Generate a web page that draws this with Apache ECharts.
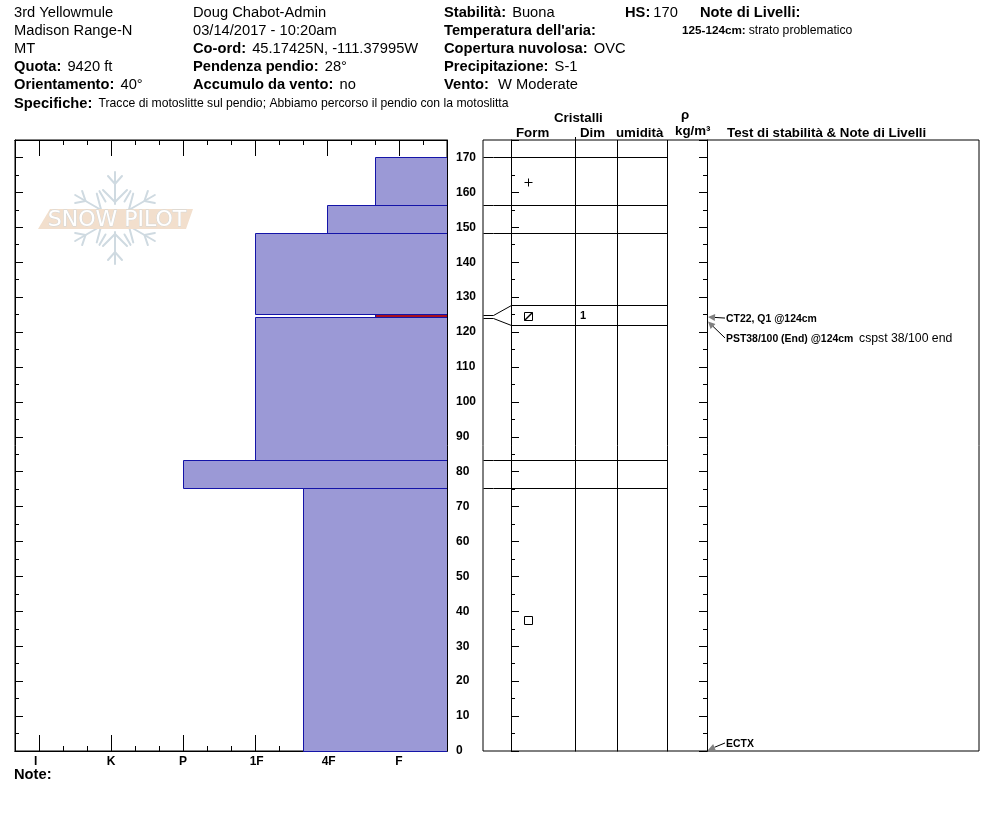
<!DOCTYPE html>
<html><head><meta charset="utf-8">
<style>html,body{margin:0;padding:0;background:#fff}#c{width:994px;height:840px}</style>
<script src="https://cdn.jsdelivr.net/npm/echarts@6/dist/echarts.min.js"></script>
</head><body><div id="c"></div>
<script>
// ---- chart data ----
const hardnessTicks = [3, 6, 9, 12, 15, 18];
const hardnessLabels = ['I  ', 'K', 'P', ' 1F', ' 4F', 'F'];
const layerTop = [170, 156.4, 148.4, 124.3, 83.4, 75.3];
const layerBottom = [156.4, 148.4, 125.2, 83.4, 75.3, 0];
const layerHardness = [17, 15, 12, 12, 9, 14];
const problemLayer = [125.2, 124.3, 17];
const trueDepths = [170, 156.4, 148.4, 124.9, 124.1, 83.4, 75.3];
const rowDepths = [170, 156.4, 148.4, 127.8, 122, 83.4, 75.3];
const columnEdges = [28, 92, 134, 184, 224];
const grainDepths = [163, 124.6, 37.5];
const grainKinds = ['plus', 'slashbox', 'box'];
const sizeDepths = [124.6];
const sizeLabels = ['1'];
const testTipDepths = [124.3, 123.0, 0.3];
const testLabelDepths = [124.0, 118.3, 2.3];
const testLabels = ['CT22, Q1 @124cm', 'PST38/100 (End) @124cm', 'ECTX'];
const testNotes = ['', 'cspst 38/100 end', ''];
const headerRows = [
 [14, 13, '{r|3rd Yellowmule}'], [14, 31, '{r|Madison Range-N}'], [14, 49, '{r|MT}'],
 [14, 67, '{b|Quota:}  {r|9420 ft}'], [14, 85, '{b|Orientamento:}  {r|40°}'],
 [193, 13, '{r|Doug Chabot-Admin}'], [193, 31, '{r|03/14/2017 - 10:20am}'],
 [193, 49, '{b|Co-ord:}  {r|45.17425N, -111.37995W}'], [193, 67, '{b|Pendenza pendio:}  {r|28°}'],
 [193, 85, '{b|Accumulo da vento:}  {r|no}'],
 [444, 13, '{b|Stabilità:}  {r|Buona}'], [444, 31, "{b|Temperatura dell'aria:}"],
 [444, 49, '{b|Copertura nuvolosa:}  {r|OVC}'], [444, 67, '{b|Precipitazione:}  {r|S-1}'],
 [444, 85, '{b|Vento:}   {r|W Moderate}'],
 [625, 13, '{b|HS:} {r|170}'], [700, 13, '{b|Note di Livelli:}'],
 [682, 31, '{sb|125-124cm:} {s|strato problematico}'],
 [14, 104, '{b|Specifiche:}  {s2|Tracce di motoslitte sul pendio; Abbiamo percorso il pendio con la motoslitta}'],
 [14, 775, '{b|Note:}']
];
const columnHeads = [
 [554, 118, 'Cristalli'], [516, 133, 'Form'], [580, 133, 'Dim'], [616, 133, 'umidità'],
 [681, 115, 'ρ'], [675, 131, 'kg/m³'], [727, 133, 'Test di stabilità & Note di Livelli']
];

// ---- helpers ----
const FONT = '"Liberation Sans", Arial, sans-serif';
const INK = '#000';
const FILL = '#9b99d6', EDGE = '#1414a8';
const crisp = v => Math.round(v) + 0.5;
const lineAxis = {show: true, onZero: false, lineStyle: {color: INK, width: 1}};

function layerItem(params, api) {
  const a = api.coord([api.value(2), api.value(0)]);
  const b = api.coord([20, api.value(1)]);
  const x = crisp(a[0]), y = crisp(a[1]), r = Math.round(b[0]), e = crisp(b[1]);
  return {type: 'group', children: [
    {type: 'rect', shape: {x: x, y: y, width: r - x, height: e - y},
     style: {fill: params.seriesName === 'problem' ? '#a80f1e' : FILL, stroke: null}},
    {type: 'polyline', shape: {points: [[r, y], [x, y], [x, e], [r, e]]},
     style: {fill: null, stroke: EDGE, lineWidth: 1}}
  ]};
}
function rowLineItem(params, api) {
  const t = api.value(0), d = api.value(1);
  const p = [api.coord([0, t]), api.coord([10, t]), api.coord([columnEdges[0], d]), api.coord([columnEdges[3], d])];
  return {type: 'polyline', shape: {points: p.map(q => [crisp(q[0]), crisp(q[1])])},
    style: {fill: null, stroke: INK, lineWidth: 1}};
}
function columnItem(params, api) {
  const x = api.value(0);
  const a = api.coord([x, 0]), b = api.coord([x, 175]);
  return {type: 'line', shape: {x1: crisp(a[0]), y1: crisp(a[1]), x2: crisp(a[0]), y2: b[1]}, style: {stroke: INK, lineWidth: 1}};
}
function grainItem(params, api) {
  const c = api.coord([45, api.value(0)]), x = Math.round(c[0]) + 0.5, y = Math.round(c[1]) + 0.5;
  const k = grainKinds[params.dataIndex], st = {fill: null, stroke: INK, lineWidth: 1};
  if (k === 'plus') return {type: 'group', children: [
    {type: 'line', shape: {x1: x - 4, y1: y, x2: x + 4, y2: y}, style: st},
    {type: 'line', shape: {x1: x, y1: y - 4, x2: x, y2: y + 4}, style: st}]};
  const box = {type: 'rect', shape: {x: x - 4, y: y - 4, width: 8, height: 8}, style: st};
  if (k === 'box') return box;
  return {type: 'group', children: [box, {type: 'line', shape: {x1: x - 4, y1: y + 4, x2: x + 4, y2: y - 4}, style: {stroke: INK, lineWidth: 1.5}}]};
}
function sizeItem(params, api) {
  const c = api.coord([97, api.value(0)]);
  return {type: 'text', x: c[0], y: c[1], style: {text: sizeLabels[params.dataIndex], font: 'bold 11px ' + FONT, fill: INK, verticalAlign: 'middle'}};
}
function testItem(params, api) {
  const i = params.dataIndex;
  const tip = api.coord([225, api.value(0)]), lab = api.coord([242, api.value(1)]);
  const dx = lab[0] - tip[0], dy = lab[1] - tip[1], L = Math.hypot(dx, dy), ux = dx / L, uy = dy / L;
  const bx = tip[0] + ux * 7, by = tip[1] + uy * 7;
  const kids = [
    {type: 'line', shape: {x1: bx, y1: by, x2: lab[0], y2: lab[1]}, style: {stroke: INK, lineWidth: 1}},
    {type: 'polygon', shape: {points: [tip, [bx - uy * 3.5, by + ux * 3.5], [bx + uy * 3.5, by - ux * 3.5]]}, style: {fill: '#808080', stroke: null}},
    {type: 'text', x: lab[0] + 1, y: lab[1] + 1, style: {text: testLabels[i], font: 'bold 10.45px ' + FONT, fill: INK, verticalAlign: 'middle'}}
  ];
  if (testNotes[i]) kids.push({type: 'text', x: lab[0] + 134, y: lab[1] + 1, style: {text: testNotes[i], font: '12.25px ' + FONT, fill: INK, verticalAlign: 'middle'}});
  return {type: 'group', children: kids};
}

// watermark
const FLAKE = '#cfdae1';
function arm(rot, kind) {
  const st = {stroke: FLAKE, lineWidth: 2, fill: null, lineCap: 'round'};
  const kids = kind === 'main' ? [
    {type: 'line', shape: {x1: 0, y1: -14, x2: 0, y2: -46}, style: st},
    {type: 'polyline', shape: {points: [[-7, -42], [0, -34], [7, -42]]}, style: st},
    {type: 'polyline', shape: {points: [[-12, -28], [0, -16], [12, -28]]}, style: st}
  ] : [{type: 'line', shape: {x1: 0, y1: -19, x2: 0, y2: -31}, style: st}];
  return {type: 'group', x: 115, y: 218, rotation: rot, silent: true, children: kids, z: 1};
}
const wm = [];
for (let k = 0; k < 6; k++) { wm.push(arm(k * Math.PI / 3, 'main')); wm.push(arm(k * Math.PI / 3 + Math.PI / 6, 'tick')); }
wm.push({type: 'polygon', z: 2, shape: {points: [[38, 229], [50, 209], [193, 209], [186, 229]]}, style: {fill: '#f2dfcd'}});
wm.push({type: 'text', z: 3, x: 117, y: 220, style: {text: 'SNOW PILOT', font: '22px "DejaVu Sans", sans-serif', fill: '#fff', stroke: '#cfd6d9', lineWidth: 0.8, align: 'center', verticalAlign: 'middle'}});

const rich = {
  b: {font: 'bold 14.7px ' + FONT, color: INK},
  r: {font: '14.7px ' + FONT, color: INK},
  s: {font: '12.2px ' + FONT, color: INK},
  sb: {font: 'bold 11.7px ' + FONT, color: INK},
  s2: {font: '12.2px ' + FONT, color: INK}
};
const textEls = headerRows.map(r => ({type: 'text', x: r[0], y: r[1], z: 5,
  style: {text: r[2], rich: rich, verticalAlign: 'middle', font: '11px ' + FONT}}));
const headEls = columnHeads.map(r => ({type: 'text', x: r[0], y: r[1], z: 5,
  style: {text: r[2], font: 'bold 13.3px ' + FONT, fill: INK, verticalAlign: 'middle'}}));

// axes
const xBase = {min: 2, max: 20, interval: 1, type: 'value', gridIndex: 0, splitLine: {show: false}, axisLine: lineAxis};
const plainLabel = {show: false};
const xAxes = [
  {...xBase, position: 'bottom', axisTick: {inside: true, length: 5, lineStyle: {color: INK}}, axisLabel: plainLabel},
  {...xBase, position: 'bottom', axisTick: {inside: true, length: 16, customValues: hardnessTicks, lineStyle: {color: INK}},
   axisLabel: {show: true, customValues: hardnessTicks, margin: 5, fontWeight: 'bold', fontSize: 12, fontFamily: FONT, color: INK,
     formatter: v => hardnessLabels[hardnessTicks.indexOf(v)] || ''}},
  {...xBase, position: 'top', axisTick: {inside: true, length: 5, lineStyle: {color: INK}}, axisLabel: plainLabel},
  {...xBase, position: 'top', axisTick: {inside: true, length: 16, customValues: hardnessTicks, lineStyle: {color: INK}}, axisLabel: plainLabel},
  {type: 'value', gridIndex: 1, min: 0, max: 496, show: false, splitLine: {show: false}}
];
const yBase = {type: 'value', min: 0, max: 175, interval: 10, splitLine: {show: false}, axisLine: lineAxis,
  axisTick: {inside: true, length: 8, lineStyle: {color: INK}},
  minorTick: {show: true, splitNumber: 2, length: 4, lineStyle: {color: INK}}, minorSplitLine: {show: false}, axisLabel: plainLabel};
const yAxes = [
  {...yBase, gridIndex: 0, position: 'right',
   axisLabel: {show: true, showMaxLabel: false, margin: 9, fontFamily: FONT, fontWeight: 'bold', fontSize: 12, color: INK,
     formatter: v => v > 170 ? '' : String(v)}},
  {...yBase, gridIndex: 0, position: 'left'},
  {...yBase, gridIndex: 1, position: 'left', offset: -columnEdges[0]},
  {...yBase, gridIndex: 1, position: 'right', offset: -(496 - columnEdges[4])},
];
const zipLayers = layerTop.map((t, i) => [t, layerBottom[i], layerHardness[i]]);
const option = {
  animation: false,
  grid: [
    {left: 15, top: 140, width: 432, height: 611, show: true, borderColor: INK, borderWidth: 1, backgroundColor: 'transparent'},
    {left: 483, top: 140, width: 496, height: 611, show: true, borderColor: INK, borderWidth: 1, backgroundColor: 'transparent'}
  ],
  xAxis: xAxes, yAxis: yAxes,
  graphic: {elements: [...wm, ...textEls, ...headEls,
    {type: 'line', z: 5, shape: {x1: 575.5, y1: 137, x2: 575.5, y2: 140}, style: {stroke: INK, lineWidth: 1}}]},
  series: [
    {name: 'layers', type: 'custom', xAxisIndex: 0, yAxisIndex: 0, clip: false, z: 3, data: zipLayers, renderItem: layerItem, encode: {x: 2, y: 0}},
    {name: 'problem', type: 'custom', xAxisIndex: 0, yAxisIndex: 0, clip: false, z: 3, data: [problemLayer], renderItem: layerItem, encode: {x: 2, y: 0}},
    {name: 'rows', type: 'custom', xAxisIndex: 4, yAxisIndex: 2, clip: false, data: trueDepths.map((t, i) => [t, rowDepths[i]]), renderItem: rowLineItem},
    {name: 'columns', type: 'custom', xAxisIndex: 4, yAxisIndex: 2, clip: false, data: columnEdges.map(x => [x]), renderItem: columnItem},
    {name: 'grains', type: 'custom', xAxisIndex: 4, yAxisIndex: 2, clip: false, data: grainDepths.map(d => [d]), renderItem: grainItem},
    {name: 'sizes', type: 'custom', xAxisIndex: 4, yAxisIndex: 2, clip: false, data: sizeDepths.map(d => [d]), renderItem: sizeItem},
    {name: 'tests', type: 'custom', xAxisIndex: 4, yAxisIndex: 2, clip: false, data: testTipDepths.map((d, i) => [d, testLabelDepths[i]]), renderItem: testItem}
  ]
};
echarts.init(document.getElementById('c'), null, {renderer: 'canvas'}).setOption(option);
</script></body></html>
